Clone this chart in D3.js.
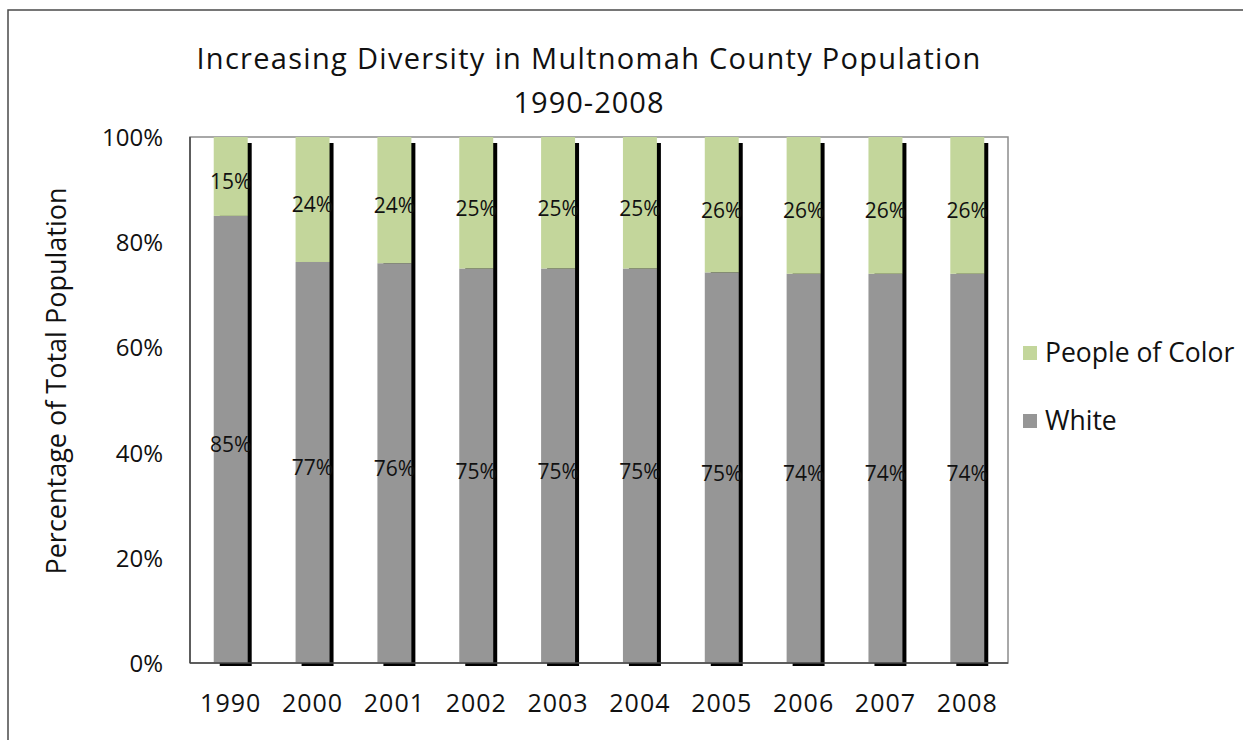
<!DOCTYPE html>
<html>
<head>
<meta charset="utf-8">
<script src="https://cdn.jsdelivr.net/npm/d3@7"></script>
<style>
  body { margin: 0; background: #fff; }
  svg text { font-family: "Open Sans", Lato, sans-serif; fill: #111; }
</style>
</head>
<body>
<svg id="chart" width="1243" height="740"></svg>
<script>
'use strict';

// values
const years = ["1990", "2000", "2001", "2002", "2003", "2004", "2005", "2006", "2007", "2008"];
const white = [85, 77, 76, 75, 75, 75, 75, 74, 74, 74];
const peopleOfColor = [15, 24, 24, 25, 25, 25, 26, 26, 26, 26];
const yTicks = [0, 0.2, 0.4, 0.6, 0.8, 1];
const seriesNames = ["White", "People of Color"];
const colors = { "White": "#969696", "People of Color": "#c3d69b" };

const svg = d3.select("#chart");
const margin = { left: 190, top: 137, right: 1008, bottom: 663 };

// outer chart frame (runs off the right and bottom of the picture)
svg.append("rect")
    .attr("x", 8).attr("y", 10)
    .attr("width", 1300).attr("height", 800)
    .attr("fill", "none")
    .attr("stroke", "#4a4a4a")
    .attr("stroke-width", 1.5);

const x = d3.scaleBand()
    .domain(years)
    .range([margin.left, margin.right])
    .paddingInner(0.585)
    .paddingOuter(0.29);

const y = d3.scaleLinear()
    .domain([0, 1])
    .range([margin.bottom, margin.top]);

// 100% stacked: normalize each year
const rows = years.map((yr, i) => ({ year: yr, "White": white[i], "People of Color": peopleOfColor[i] }));
const stack = d3.stack().keys(seriesNames).offset(d3.stackOffsetExpand);
const series = stack(rows);

// plot area border
svg.append("rect")
    .attr("x", margin.left).attr("y", margin.top)
    .attr("width", margin.right - margin.left)
    .attr("height", margin.bottom - margin.top)
    .attr("fill", "none")
    .attr("stroke", "#8c8c8c")
    .attr("stroke-width", 1.5);

// drop shadows
const bw = x.bandwidth();
svg.append("g").selectAll("rect")
    .data(rows)
    .join("rect")
    .attr("x", d => x(d.year) + 6)
    .attr("y", y(1) + 6)
    .attr("width", bw - 2)
    .attr("height", y(0) - y(1) - 3)
    .attr("fill", "#000");

// bars
svg.append("g").selectAll("g")
    .data(series)
    .join("g")
    .attr("fill", d => colors[d.key])
    .selectAll("rect")
    .data(d => d)
    .join("rect")
    .attr("x", d => x(d.data.year))
    .attr("y", d => y(d[1]))
    .attr("width", bw)
    .attr("height", d => y(d[0]) - y(d[1]));

// axis lines
svg.append("line")
    .attr("x1", margin.left).attr("x2", margin.left)
    .attr("y1", margin.top).attr("y2", margin.bottom)
    .attr("stroke", "#444").attr("stroke-width", 1.5);
svg.append("line")
    .attr("x1", margin.left).attr("x2", margin.right)
    .attr("y1", margin.bottom).attr("y2", margin.bottom)
    .attr("stroke", "#444").attr("stroke-width", 1.5);

// data labels
const labels = svg.append("g")
    .attr("font-size", 21)
    .attr("text-anchor", "middle");
series.forEach((s, si) => {
    const vals = si === 0 ? white : peopleOfColor;
    labels.selectAll(null)
        .data(s)
        .join("text")
        .attr("x", d => x(d.data.year) + bw / 2)
        .attr("y", d => y((d[0] + d[1]) / 2) + 13)
        .text((d, i) => vals[i] + "%");
});

// y axis
const yAxis = d3.axisLeft(y)
    .tickValues(yTicks)
    .tickFormat(d3.format(".0%"))
    .tickSize(0)
    .tickPadding(27);
svg.append("g")
    .attr("transform", `translate(${margin.left},0)`)
    .call(yAxis)
    .call(g => g.select(".domain").remove())
    .call(g => g.attr("font-family", null).attr("font-size", null))
    .selectAll("text")
    .attr("font-size", 24)
    .attr("dy", "0.35em");

// x axis
const xAxis = d3.axisBottom(x).tickSize(0).tickPadding(31);
svg.append("g")
    .attr("transform", `translate(0,${margin.bottom})`)
    .call(xAxis)
    .call(g => g.select(".domain").remove())
    .call(g => g.attr("font-family", null).attr("font-size", null))
    .selectAll("text")
    .attr("font-size", 25)
    .attr("letter-spacing", 1);

// titles
svg.append("text")
    .attr("x", 589).attr("y", 69)
    .attr("text-anchor", "middle")
    .attr("font-size", 29)
    .attr("letter-spacing", 1.3)
    .text("Increasing Diversity in Multnomah County Population");
svg.append("text")
    .attr("x", 589).attr("y", 113)
    .attr("text-anchor", "middle")
    .attr("font-size", 29)
    .attr("letter-spacing", 1)
    .text("1990-2008");

svg.append("text")
    .attr("transform", "translate(66,381) rotate(-90)")
    .attr("text-anchor", "middle")
    .attr("font-size", 27)
    .text("Percentage of Total Population");

// legend
const legendItems = ["People of Color", "White"];
const legend = svg.append("g")
    .selectAll("g")
    .data(legendItems)
    .join("g")
    .attr("transform", (d, i) => `translate(1023,${346 + i * 68})`);
legend.append("rect")
    .attr("width", 14).attr("height", 14)
    .attr("fill", d => colors[d]);
legend.append("text")
    .attr("x", 22).attr("y", 7)
    .attr("dy", "0.35em")
    .attr("font-size", 26.5)
    .text(d => d);
</script>
</body>
</html>
